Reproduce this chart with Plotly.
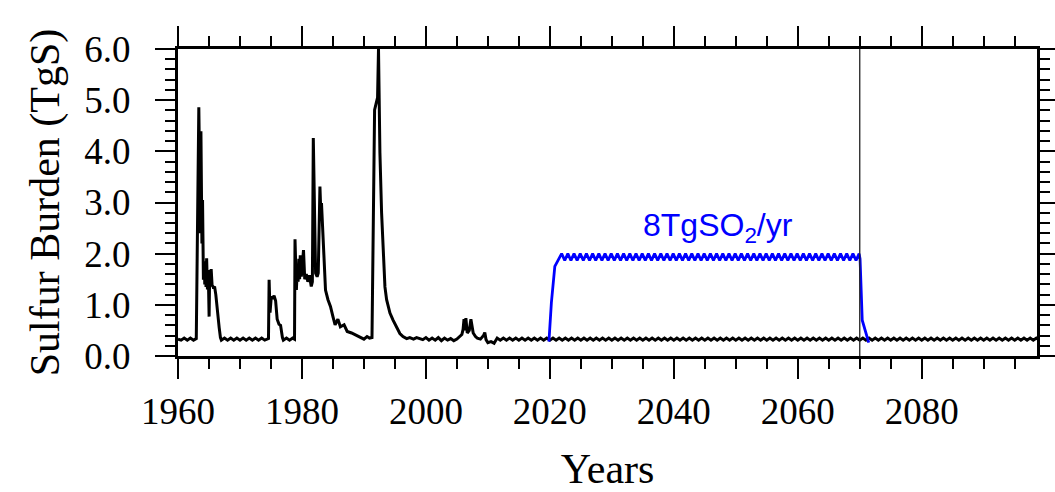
import numpy as np
import plotly.graph_objects as go

# ---------------- data (TgS) ----------------
quiet1_years = [1960.0, 1960.5, 1961.0, 1961.5, 1962.0, 1962.5, 1962.95]
quiet1_vals = [0.33, 0.31, 0.35, 0.31, 0.35, 0.31, 0.34]

agung_years = [1963.36, 1963.62, 1963.70, 1963.86, 1963.96, 1964.10, 1964.25, 1964.32,
               1964.45, 1964.52, 1964.62, 1964.75, 1964.90, 1965.02, 1965.12, 1965.25,
               1965.35, 1965.50, 1965.65, 1965.75, 1965.90, 1966.10, 1966.30, 1966.50,
               1966.65, 1966.85]
agung_vals = [4.86, 2.40, 4.39, 2.20, 3.05, 1.49, 1.85, 1.40,
              1.80, 1.35, 1.91, 1.30, 1.55, 0.77, 1.68, 1.45,
              1.70, 1.38, 1.36, 1.32, 1.36, 1.20, 0.90, 0.68,
              0.55, 0.36]

quiet2_years = [1967.0, 1967.5, 1968.0, 1968.5, 1969.0, 1969.5, 1970.0, 1970.5,
                1971.0, 1971.5, 1972.0, 1972.5, 1973.0, 1973.5, 1974.0, 1974.6]
quiet2_vals = [0.31, 0.35, 0.31, 0.35, 0.31, 0.35, 0.31, 0.35,
               0.31, 0.35, 0.31, 0.35, 0.31, 0.35, 0.31, 0.34]

fuego_years = [1974.70, 1974.85, 1975.05, 1975.30, 1975.50, 1975.75, 1976.00,
               1976.30, 1976.55, 1976.85]
fuego_vals = [1.49, 0.85, 1.16, 1.12, 1.18, 1.08, 0.72, 0.62, 0.60, 0.36]

quiet3_years = [1977.0, 1977.5, 1978.0, 1978.5, 1978.80]
quiet3_vals = [0.31, 0.35, 0.31, 0.35, 0.33]

chichon_years = [1978.88, 1979.10, 1979.25, 1979.38, 1979.50, 1979.62, 1979.73, 1979.90,
                 1980.05, 1980.25, 1980.45, 1980.70, 1980.95, 1981.20, 1981.50, 1981.68,
                 1981.83, 1981.95, 1982.20, 1982.45, 1982.63, 1982.90, 1983.05, 1983.15,
                 1983.30, 1983.55, 1983.80, 1984.20, 1984.60, 1985.00, 1985.35, 1985.80,
                 1986.20, 1986.80, 1987.30, 1988.00, 1988.50, 1989.00, 1989.60, 1990.00,
                 1990.50, 1990.90, 1991.30]
chichon_vals = [2.28, 1.29, 1.72, 1.45, 1.90, 1.50, 1.97, 1.55,
                1.75, 2.07, 1.50, 1.60, 1.45, 1.58, 1.36, 1.45,
                4.26, 3.58, 1.62, 1.55, 1.62, 3.31, 2.79, 2.99,
                2.63, 1.94, 1.29, 1.10, 0.97, 0.77, 0.61, 0.72,
                0.57, 0.61, 0.48, 0.45, 0.42, 0.38, 0.35, 0.33,
                0.38, 0.35, 0.36]

pinatubo_years = [1991.72, 1992.00, 1992.20, 1992.35, 1992.58, 1992.85, 1993.10, 1993.39,
                  1993.66, 1993.92, 1994.20, 1994.70, 1995.30, 1995.80, 1996.30, 1996.90,
                  1997.40, 1998.00, 1998.50, 1999.00, 1999.50, 2000.00, 2000.50, 2001.00,
                  2001.50, 2002.00, 2002.50, 2003.00, 2003.50, 2004.00, 2004.50, 2005.00]
pinatubo_vals = [4.81, 4.95, 5.05, 6.00, 3.97, 2.80, 1.95, 1.35,
                 1.10, 0.97, 0.84, 0.70, 0.57, 0.44, 0.38, 0.34,
                 0.36, 0.33, 0.36, 0.34, 0.32, 0.36, 0.31, 0.35,
                 0.31, 0.36, 0.30, 0.35, 0.31, 0.34, 0.30, 0.33]

recent_years = [2005.50, 2005.80, 2006.00, 2006.15, 2006.30, 2006.45, 2006.67, 2007.00,
                2007.26, 2007.45, 2007.63, 2008.00, 2008.30, 2008.80, 2009.30, 2009.50,
                2009.70, 2010.00, 2010.50, 2011.00, 2011.40]
recent_vals = [0.40, 0.42, 0.52, 0.72, 0.50, 0.74, 0.45, 0.50,
               0.72, 0.55, 0.45, 0.38, 0.35, 0.33, 0.40, 0.46,
               0.32, 0.26, 0.28, 0.25, 0.33]

# half-yearly samples from 2011.5 onward
late_start = 2011.5
late_vals = [
    0.35, 0.31, 0.35, 0.31, 0.35, 0.31, 0.35, 0.31, 0.35, 0.31,
    0.35, 0.31, 0.35, 0.31, 0.35, 0.31, 0.35, 0.31, 0.35, 0.31,
    0.35, 0.31, 0.35, 0.31, 0.35, 0.31, 0.35, 0.31, 0.35, 0.31,
    0.35, 0.31, 0.35, 0.31, 0.35, 0.31, 0.35, 0.31, 0.35, 0.31,
    0.35, 0.31, 0.35, 0.31, 0.35, 0.31, 0.35, 0.31, 0.35, 0.31,
    0.35, 0.31, 0.35, 0.31, 0.35, 0.31, 0.35, 0.31, 0.35, 0.31,
    0.35, 0.31, 0.35, 0.31, 0.35, 0.31, 0.35, 0.31, 0.35, 0.31,
    0.35, 0.31, 0.35, 0.31, 0.35, 0.31, 0.35, 0.31, 0.35, 0.31,
    0.35, 0.31, 0.35, 0.31, 0.35, 0.31, 0.35, 0.31, 0.35, 0.31,
    0.35, 0.31, 0.35, 0.31, 0.35, 0.31, 0.35, 0.31, 0.35, 0.31,
    0.35, 0.31, 0.35, 0.31, 0.35, 0.31, 0.35, 0.31, 0.35, 0.31,
    0.35, 0.31, 0.35, 0.31, 0.35, 0.31, 0.35, 0.31, 0.35, 0.31,
    0.35, 0.31, 0.35, 0.31, 0.35, 0.31, 0.35, 0.31, 0.35, 0.31,
    0.35, 0.31, 0.35, 0.31, 0.35, 0.31, 0.35, 0.31, 0.35, 0.31,
    0.35, 0.31, 0.35, 0.31, 0.35, 0.31, 0.35, 0.31, 0.35, 0.31,
    0.35, 0.31, 0.35, 0.31, 0.35, 0.31, 0.35, 0.31, 0.35, 0.31,
    0.35, 0.31, 0.35, 0.31, 0.35, 0.31, 0.35, 0.31, 0.35, 0.31,
    0.35, 0.31, 0.35, 0.31, 0.35, 0.31, 0.35,
]

# Geoengineering (8 TgSO2/yr) experiment
sg_up_years = [2019.85, 2020.25, 2020.80, 2021.20, 2021.60]
sg_up_vals = [0.28, 1.05, 1.75, 1.84, 1.95]
sg_plateau_start = 2021.9  # half-yearly samples
sg_plateau_vals = [
    2.00, 1.87, 2.00, 1.87, 2.00, 1.87, 2.00, 1.87, 2.00, 1.87,
    2.00, 1.87, 2.00, 1.87, 2.00, 1.87, 2.00, 1.87, 2.00, 1.87,
    2.00, 1.87, 2.00, 1.87, 2.00, 1.87, 2.00, 1.87, 2.00, 1.87,
    2.00, 1.87, 2.00, 1.87, 2.00, 1.87, 2.00, 1.87, 2.00, 1.87,
    2.00, 1.87, 2.00, 1.87, 2.00, 1.87, 2.00, 1.87, 2.00, 1.87,
    2.00, 1.87, 2.00, 1.87, 2.00, 1.87, 2.00, 1.87, 2.00, 1.87,
    2.00, 1.87, 2.00, 1.87, 2.00, 1.87, 2.00, 1.87, 2.00, 1.87,
    2.00, 1.87, 2.00, 1.87, 2.00, 1.87, 2.00, 1.87, 2.00, 1.87,
    2.00, 1.87, 2.00, 1.87, 2.00, 1.87, 2.00, 1.87, 2.00, 1.87,
    2.00, 1.87, 2.00, 1.87, 2.00, 1.87, 2.00,
]
sg_down_years = [2070.05, 2070.40, 2071.45]
sg_down_vals = [1.90, 0.70, 0.26]

end_year = 2070
x_tick_start, x_tick_step, x_minor_step = 1960, 20, 5
y_tick_step, y_minor_step = 1.0, 0.2
x_range = [1960, 2098.6]
y_range = [0, 6]

# ---------------- build series ----------------
late_years = late_start + 0.5 * np.arange(len(late_vals))
hist_x = np.concatenate([quiet1_years, agung_years, quiet2_years, fuego_years,
                         quiet3_years, chichon_years, pinatubo_years, recent_years,
                         late_years])
hist_y = np.concatenate([quiet1_vals, agung_vals, quiet2_vals, fuego_vals,
                         quiet3_vals, chichon_vals, pinatubo_vals, recent_vals,
                         late_vals])

sg_plateau_years = sg_plateau_start + 0.5 * np.arange(len(sg_plateau_vals))
sg_x = np.concatenate([sg_up_years, sg_plateau_years, sg_down_years])
sg_y = np.concatenate([sg_up_vals, sg_plateau_vals, sg_down_vals])

fig = go.Figure()
fig.add_trace(go.Scatter(x=hist_x, y=hist_y, mode='lines',
                         line=dict(color='black', width=3), hoverinfo='skip'))
fig.add_trace(go.Scatter(x=sg_x, y=sg_y, mode='lines',
                         line=dict(color='#0000ff', width=2.8), hoverinfo='skip'))

fig.add_shape(type='line', xref='x', yref='paper', x0=end_year, x1=end_year, y0=0, y1=1,
              line=dict(color='#222222', width=1.3))

fig.add_annotation(x=2047.2, y=2.52, xref='x', yref='y', text='8TgSO<sub>2</sub>/yr',
                   showarrow=False, xanchor='center', yanchor='middle',
                   font=dict(family='Liberation Sans', size=32, color='#0000ff'))

serif = 'Liberation Serif'
fig.update_layout(
    width=1055, height=492,
    margin=dict(l=178, r=18, t=49, b=136, autoexpand=False),
    plot_bgcolor='white', paper_bgcolor='white',
    showlegend=False,
)
fig.update_xaxes(
    range=x_range, tickmode='linear', tick0=x_tick_start, dtick=x_tick_step,
    ticks='outside', ticklen=20, tickwidth=2, tickcolor='black',
    showline=True, linewidth=3, linecolor='black', mirror='allticks',
    showgrid=False, zeroline=False, automargin=False,
    minor=dict(dtick=x_minor_step, tick0=x_tick_start, ticks='outside', ticklen=10,
               tickwidth=2, tickcolor='black', showgrid=False),
    tickfont=dict(family=serif, size=37, color='black'),
    ticklabelstandoff=1,
    title=dict(text='Years', font=dict(family=serif, size=42, color='black'), standoff=40),
)
fig.update_yaxes(
    range=y_range, tickmode='linear', tick0=0, dtick=y_tick_step, tickformat='.1f',
    ticks='outside', ticklen=20, tickwidth=2, tickcolor='black',
    showline=True, linewidth=3, linecolor='black', mirror='allticks',
    showgrid=False, zeroline=False, automargin=False,
    minor=dict(dtick=y_minor_step, tick0=0, ticks='outside', ticklen=10,
               tickwidth=2, tickcolor='black', showgrid=False),
    tickfont=dict(family=serif, size=37, color='black'),
    ticklabelstandoff=17,
    title=dict(text='Sulfur Burden (TgS)', font=dict(family=serif, size=42, color='black'),
               standoff=12),
)

fig.write_html('out.html')
